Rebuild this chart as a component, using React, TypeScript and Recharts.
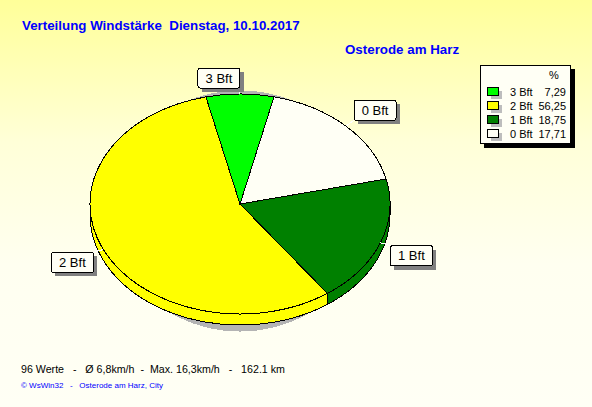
import React from 'react';
import { PieChart, Pie, Legend } from 'recharts';

// Wind force distribution, legend order
const categories = ['3 Bft', '2 Bft', '1 Bft', '0 Bft'];
const percentValues = [7.29, 56.25, 18.75, 17.71];
const sliceColors = ['#00ff00', '#ffff00', '#008000', '#fffff5'];

const tableData = categories.map((name, i) => ({
    name,
    value: percentValues[i],
    fill: sliceColors[i]
}));

const WIDTH = 592;
const HEIGHT = 407;
const PIE_X = 240;
const PIE_Y = 204;
const RADIUS_X = 150;
const RADIUS_Y = 110;
const WALL_DEPTH = 11;
const START_ANGLE = 76.9;

const point = (cx: number, cy: number, rx: number, ry: number, deg: number) => {
    const a = (deg * Math.PI) / 180;
    return `${(cx + rx * Math.cos(a)).toFixed(2)} ${(cy - ry * Math.sin(a)).toFixed(2)}`;
};

// Pie only knows circles, so the slices get squashed to an ellipse here
const TopSlice = (props: any) => {
    const { cx, cy, startAngle, endAngle, fill } = props;
    const large = endAngle - startAngle > 180 ? 1 : 0;
    const d = `M ${cx} ${cy} L ${point(cx, cy, RADIUS_X, RADIUS_Y, startAngle)} A ${RADIUS_X} ${RADIUS_Y} 0 ${large} 0 ${point(cx, cy, RADIUS_X, RADIUS_Y, endAngle)} Z`;
    return <path d={d} fill={fill} stroke="#000" strokeWidth={1} shapeRendering="crispEdges" />;
};

// Front wall of the 3D look, only the part in the lower half
const WallSlice = (props: any) => {
    const { cx, cy, startAngle, endAngle, fill } = props;
    const from = Math.max(startAngle, 180);
    const to = Math.min(endAngle, 360);
    if (to <= from) return null;
    const cyLow = cy + WALL_DEPTH;
    const d = `M ${point(cx, cy, RADIUS_X, RADIUS_Y, from)} A ${RADIUS_X} ${RADIUS_Y} 0 0 0 ${point(cx, cy, RADIUS_X, RADIUS_Y, to)} L ${point(cx, cyLow, RADIUS_X, RADIUS_Y, to)} A ${RADIUS_X} ${RADIUS_Y} 0 0 1 ${point(cx, cyLow, RADIUS_X, RADIUS_Y, from)} Z`;
    return <path d={d} fill={fill} stroke="#000" strokeWidth={1} shapeRendering="crispEdges" />;
};

// Grey drop shadow behind the pie
const ShadowSlice = (props: any) => {
    const { cx, cy, startAngle, endAngle } = props;
    const large = endAngle - startAngle > 180 ? 1 : 0;
    const sy = cy + 7;
    const d = `M ${cx} ${sy} L ${point(cx, sy, 130, 120, startAngle)} A 130 120 0 ${large} 0 ${point(cx, sy, 130, 120, endAngle)} Z`;
    return <path d={d} fill="#b4b4b4" stroke="#b4b4b4" shapeRendering="crispEdges" />;
};

// Callout box, the corner nearest the pie sits next to the slice middle
const SliceLabel = (props: any) => {
    const { cx, cy, midAngle, name } = props;
    const a = (midAngle * Math.PI) / 180;
    const ex = cx + RADIUS_X * Math.cos(a);
    const ey = cy - RADIUS_Y * Math.sin(a);
    const right = ex > cx + 1;
    const below = ey > cy;
    const boxW = 42;
    const boxH = 20;
    const ax = right ? ex + (below ? 10 : 8) : Math.abs(ex - cx) < 5 ? ex : ex - 10;
    const ay = below ? ey + 3 : ey - 6;
    const x = right ? ax : ax - boxW;
    const y = below ? ay : ay - boxH;
    return (
        <g>
            <line x1={ex} y1={ey} x2={ax} y2={ay} stroke="#fff" strokeWidth={1} shapeRendering="crispEdges" />
            <rect x={x + 4} y={y + 4} width={boxW} height={boxH} fill="#808080" shapeRendering="crispEdges" />
            <rect x={x} y={y} width={boxW} height={boxH} rx={2} fill="#fffff5" stroke="#000" strokeWidth={1} shapeRendering="crispEdges" />
            <text x={x + boxW / 2} y={y + 14.5} textAnchor="middle" fontSize={13} fontFamily="Liberation Sans" fill="#000">
                {name}
            </text>
        </g>
    );
};

const LegendBox = () => (
    <div
        style={{
            width: 89,
            height: 77,
            background: '#fffff5',
            border: '1px solid #000',
            boxShadow: '4px 4px 0 #000',
            fontFamily: 'Liberation Sans',
            fontSize: 11,
            color: '#000',
            position: 'relative'
        }}
    >
        <div style={{ position: 'absolute', left: 68, top: 3 }}>%</div>
        {categories.map((name, i) => (
            <div key={name} style={{ position: 'absolute', left: 0, top: 19 + i * 14, width: 89, height: 14, lineHeight: '14px' }}>
                <span style={{ position: 'absolute', left: 10, top: 6, width: 11, height: 8, background: '#bdbdbd' }} />
                <span style={{ position: 'absolute', left: 6, top: 2, width: 10, height: 7, background: sliceColors[i], border: '1px solid #000' }} />
                <span style={{ position: 'absolute', left: 29, top: 0 }}>{name}</span>
                <span style={{ position: 'absolute', right: 4, top: 0 }}>{percentValues[i].toFixed(2).replace('.', ',')}</span>
            </div>
        ))}
    </div>
);

const textAt = (left: number, top: number, extra: React.CSSProperties): React.CSSProperties => ({
    position: 'absolute',
    left,
    top,
    whiteSpace: 'pre',
    fontFamily: 'Liberation Sans',
    ...extra
});

export default function App() {
    document.body.style.margin = '0';
    const pieProps = {
        data: tableData,
        dataKey: 'value',
        nameKey: 'name',
        cx: PIE_X,
        cy: PIE_Y,
        outerRadius: RADIUS_X,
        startAngle: START_ANGLE,
        endAngle: START_ANGLE + 360,
        isAnimationActive: false,
        legendType: 'none' as const
    };
    return (
        <div
            style={{
                position: 'relative',
                width: WIDTH,
                height: HEIGHT,
                overflow: 'hidden',
                background: 'linear-gradient(180deg, #ffff99 0%, #ffffd8 35%, #fffff0 65%, #fffff5 100%)'
            }}
        >
            <div style={textAt(22, 18, { fontSize: 13.33, fontWeight: 'bold', color: '#0000ff' })}>
                {'Verteilung Windstärke  Dienstag, 10.10.2017'}
            </div>
            <div style={textAt(345, 42, { fontSize: 13.33, fontWeight: 'bold', color: '#0000ff' })}>Osterode am Harz</div>
            <PieChart width={WIDTH} height={HEIGHT} margin={{ top: 0, right: 0, bottom: 0, left: 0 }} style={{ position: 'absolute', left: 0, top: 0 }}>
                <Pie {...pieProps} shape={ShadowSlice} />
                <Pie {...pieProps} shape={WallSlice} />
                <Pie {...pieProps} shape={TopSlice} label={SliceLabel} labelLine={false} />
                <Legend content={LegendBox} wrapperStyle={{ position: 'absolute', left: 480, top: 65, width: 91, bottom: 'auto' }} />
            </PieChart>
            <div style={textAt(21, 363, { fontSize: 10.67, color: '#000' })}>
                {'96 Werte   -   Ø 6,8km/h  -  Max. 16,3km/h   -   162.1 km'}
            </div>
            <div style={textAt(21, 381, { fontSize: 8, color: '#0000ff' })}>
                {'© WsWin32   -   Osterode am Harz, City'}
            </div>
        </div>
    );
}
